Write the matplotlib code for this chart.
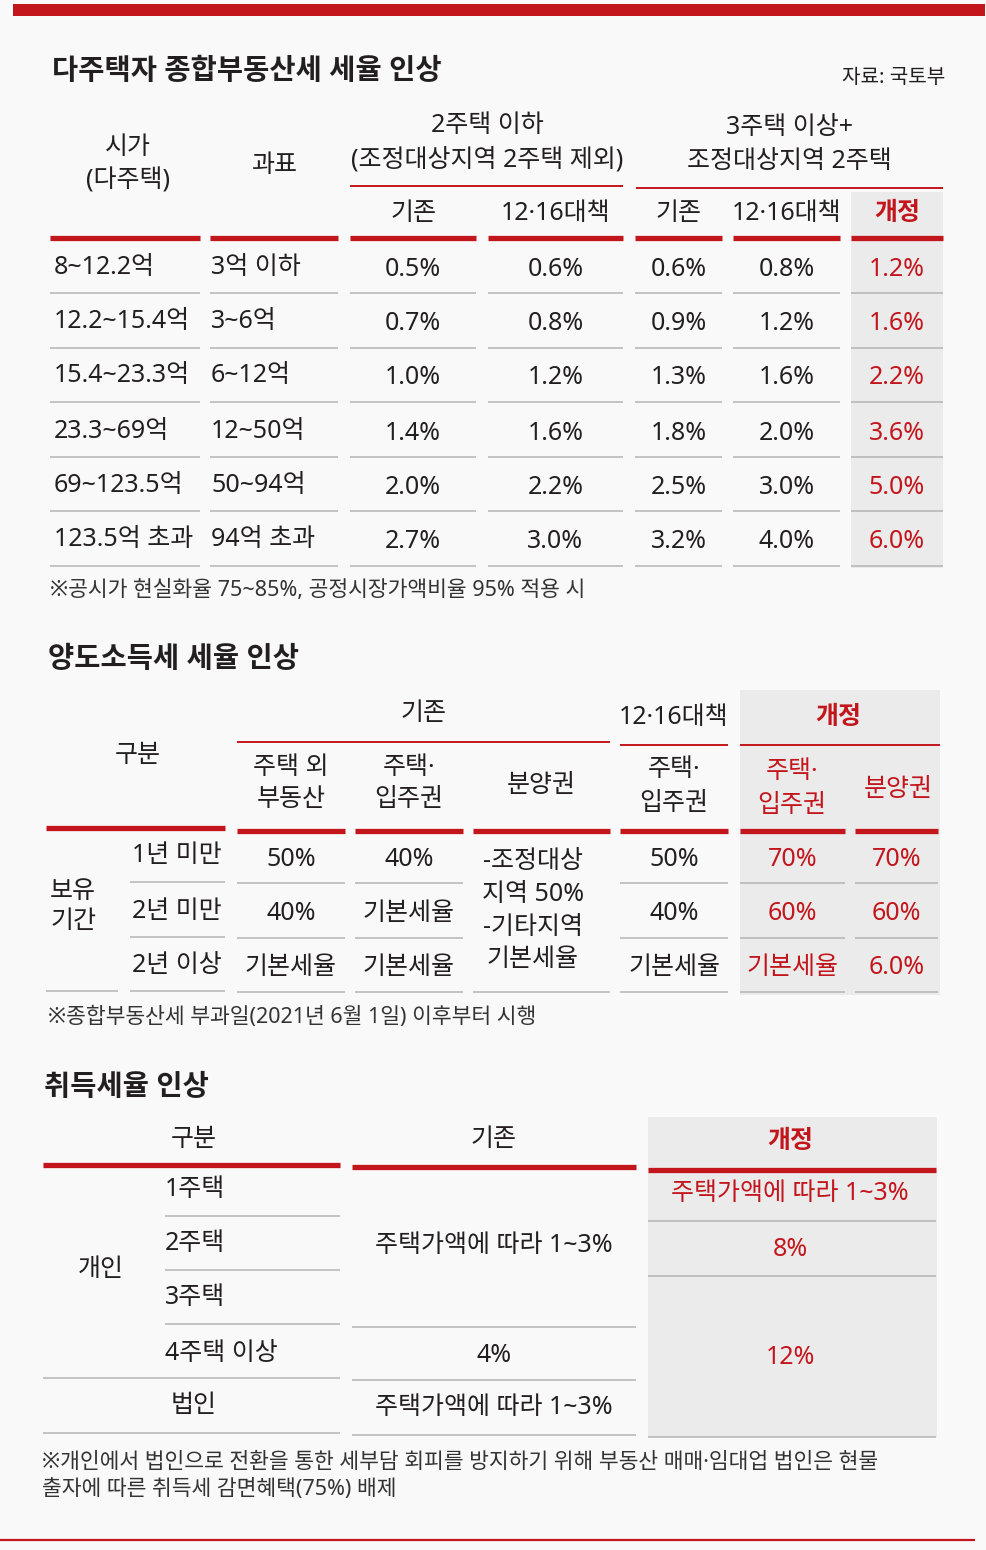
import matplotlib.pyplot as plt
from matplotlib.patches import Rectangle

plt.rcParams['font.family'] = ['Noto Sans', 'Noto Sans CJK KR', 'DejaVu Sans']

RED = '#c3161c'
INK = '#231f20'
GRID = '#b4b4b4'
SHADE = '#ebebeb'
BG = '#f9f9f9'

# ---- 종합부동산세 ----
price_bands = ['8~12.2억', '12.2~15.4억', '15.4~23.3억', '23.3~69억', '69~123.5억', '123.5억 초과']
tax_bases = ['3억 이하', '3~6억', '6~12억', '12~50억', '50~94억', '94억 초과']
two_old = [0.5, 0.7, 1.0, 1.4, 2.0, 2.7]
two_1216 = [0.6, 0.8, 1.2, 1.6, 2.2, 3.0]
three_old = [0.6, 0.9, 1.3, 1.8, 2.5, 3.2]
three_1216 = [0.8, 1.2, 1.6, 2.0, 3.0, 4.0]
three_new = [1.2, 1.6, 2.2, 3.6, 5.0, 6.0]

# ---- 양도소득세 ----
hold_periods = ['1년 미만', '2년 미만', '2년 이상']
cg_other_old = ['50%', '40%', '기본세율']
cg_house_old = ['40%', '기본세율', '기본세율']
cg_presale_old = ['-조정대상', '지역 50%', '-기타지역', '기본세율']
cg_house_1216 = ['50%', '40%', '기본세율']
cg_house_new = ['70%', '60%', '기본세율']
cg_presale_new = ['70%', '60%', '6.0%']

# ---- 취득세 ----
acq_rows = ['1주택', '2주택', '3주택', '4주택 이상', '법인']
acq_old = ['주택가액에 따라 1~3%', '4%', '주택가액에 따라 1~3%']
acq_new = ['주택가액에 따라 1~3%', '8%', '12%']

fig = plt.figure(figsize=(9.87, 15.5), dpi=100)
fig.patch.set_facecolor(BG)
ax = fig.add_axes([0, 0, 1, 1])
ax.set_xlim(0, 987)
ax.set_ylim(1550, 0)
ax.axis('off')

FS = 18
NOTE = 15.5
TITLE = 20.5


def txt(x, y, s, size=FS, color=INK, ha='center', weight='medium'):
    ax.text(x, y, s, fontsize=size, color=color, ha=ha, va='center', fontweight=weight)


def hline(x0, x1, y, color=GRID, lw=1.1):
    ax.plot([x0, x1], [y, y], color=color, lw=lw, solid_capstyle='butt')


def shade(x0, x1, y0, y1):
    ax.add_patch(Rectangle((x0, y0), x1 - x0, y1 - y0, color=SHADE, lw=0, zorder=0))


# frame
ax.add_patch(Rectangle((13, 4), 972, 12, color=RED, lw=0))
hline(0, 975, 1540, RED, 1.6)

# ================= section 1 =================
txt(52, 72, '다주택자 종합부동산세 세율 인상', TITLE, ha='left', weight='bold')
txt(945, 78, '자료: 국토부', 14.5, ha='right')

cols1 = [(50, 200), (210, 338), (350, 476), (488, 623), (635, 722), (733, 840), (851, 943)]
shade(851, 943, 192, 568)

txt(128, 148, '시가')
txt(128, 181, '(다주택)')
txt(275, 166, '과표')
txt(487, 126, '2주택 이하')
txt(487, 160, '(조정대상지역 2주택 제외)')
txt(789, 128, '3주택 이상+')
txt(789, 161, '조정대상지역 2주택')
hline(350, 623, 186, RED, 1.4)
hline(636, 943, 188, RED, 1.4)

sub1 = ['기존', '12·16대책', '기존', '12·16대책', '개정']
for (x0, x1), s in zip(cols1[2:], sub1):
    txt((x0 + x1) / 2, 213, s, color=RED if s == '개정' else INK,
        weight='bold' if s == '개정' else 'medium')
for x0, x1 in cols1:
    hline(x0, x1, 238, RED, 3.8)

row_y1 = [267, 322, 376, 431, 485, 540]
series1 = [two_old, two_1216, three_old, three_1216, three_new]
for i, y in enumerate(row_y1):
    txt(54, y, price_bands[i], ha='left')
    txt(211, y, tax_bases[i], ha='left')
    for j, ser in enumerate(series1):
        x0, x1 = cols1[j + 2]
        txt((x0 + x1) / 2, y + 2, f'{ser[i]:.1f}%', color=RED if j == 4 else INK)
    for x0, x1 in cols1:
        hline(x0, x1, y + 26)

txt(50, 590, '※공시가 현실화율 75~85%, 공정시장가액비율 95% 적용 시', NOTE, color='#333333', ha='left')

# ================= section 2 =================
txt(48, 660, '양도소득세 세율 인상', TITLE, ha='left', weight='bold')

cols2 = [(237, 345), (355, 463), (473, 610), (620, 728), (740, 845), (855, 938)]
shade(740, 940, 690, 995)

txt(424, 713, '기존')
hline(237, 610, 742, RED, 1.4)
txt(674, 717, '12·16대책')
hline(620, 728, 745, RED, 1.4)
txt(838, 717, '개정', color=RED, weight='bold')
hline(740, 940, 745, RED, 1.4)

txt(138, 755, '구분')
txt(291, 767, '주택 외')
txt(291, 800, '부동산')
txt(409, 767, '주택·')
txt(409, 800, '입주권')
txt(541, 786, '분양권')
txt(674, 770, '주택·')
txt(674, 803, '입주권')
txt(792, 772, '주택·', color=RED)
txt(792, 805, '입주권', color=RED)
txt(898, 790, '분양권', color=RED)

hline(46, 225, 828, RED, 3.8)
for x0, x1 in cols2:
    hline(x0, x1, 831, RED, 3.8)

txt(73, 892, '보유')
txt(73, 922, '기간')
row_y2 = [856, 911, 965]
series2 = [cg_other_old, cg_house_old, None, cg_house_1216, cg_house_new, cg_presale_new]
for i, y in enumerate(row_y2):
    txt(177, y, hold_periods[i])
    for j, ser in enumerate(series2):
        if ser is None:
            continue
        x0, x1 = cols2[j]
        txt((x0 + x1) / 2, y + 3, ser[i], color=RED if j >= 4 else INK)
    last = i == len(row_y2) - 1
    hline(130, 225, y + 26)
    if last:
        hline(46, 118, y + 26)
    for j, (x0, x1) in enumerate(cols2):
        if j == 2 and not last:
            continue
        hline(x0, x1, y + 27)

for k, s in enumerate(cg_presale_old):
    txt(533, 862 + k * 32.5, s)

txt(48, 1017, '※종합부동산세 부과일(2021년 6월 1일) 이후부터 시행', NOTE, color='#333333', ha='left')

# ================= section 3 =================
txt(44, 1087, '취득세율 인상', TITLE, ha='left', weight='bold')
shade(648, 937, 1117, 1437)

txt(194, 1140, '구분')
txt(494, 1140, '기존')
txt(790, 1142, '개정', color=RED, weight='bold')
hline(43, 340, 1165, RED, 3.8)
hline(352, 636, 1167, RED, 3.8)
hline(648, 936, 1170, RED, 3.8)

row_y3 = [1190, 1244, 1298, 1353, 1406]
txt(101, 1270, '개인')
for i, y in enumerate(row_y3):
    if i < 4:
        txt(165, y, acq_rows[i], ha='left')
    else:
        txt(194, y, acq_rows[i])
for y in row_y3[:3]:
    hline(165, 340, y + 26)
hline(43, 340, 1378)
hline(43, 340, 1433)

txt(494, 1246, acq_old[0])
hline(352, 636, 1327)
txt(494, 1355, acq_old[1])
hline(352, 636, 1380)
txt(494, 1408, acq_old[2])
hline(352, 636, 1435)

txt(790, 1194, acq_new[0], color=RED)
hline(648, 936, 1221)
txt(790, 1249, acq_new[1], color=RED)
hline(648, 936, 1276)
txt(790, 1357, acq_new[2], color=RED)
hline(648, 936, 1437)

txt(42, 1463, '※개인에서 법인으로 전환을 통한 세부담 회피를 방지하기 위해 부동산 매매·임대업 법인은 현물',
    NOTE, color='#333333', ha='left')
txt(42, 1490, '출자에 따른 취득세 감면혜택(75%) 배제', NOTE, color='#333333', ha='left')

fig.savefig('out.png', dpi=100, facecolor=BG)
